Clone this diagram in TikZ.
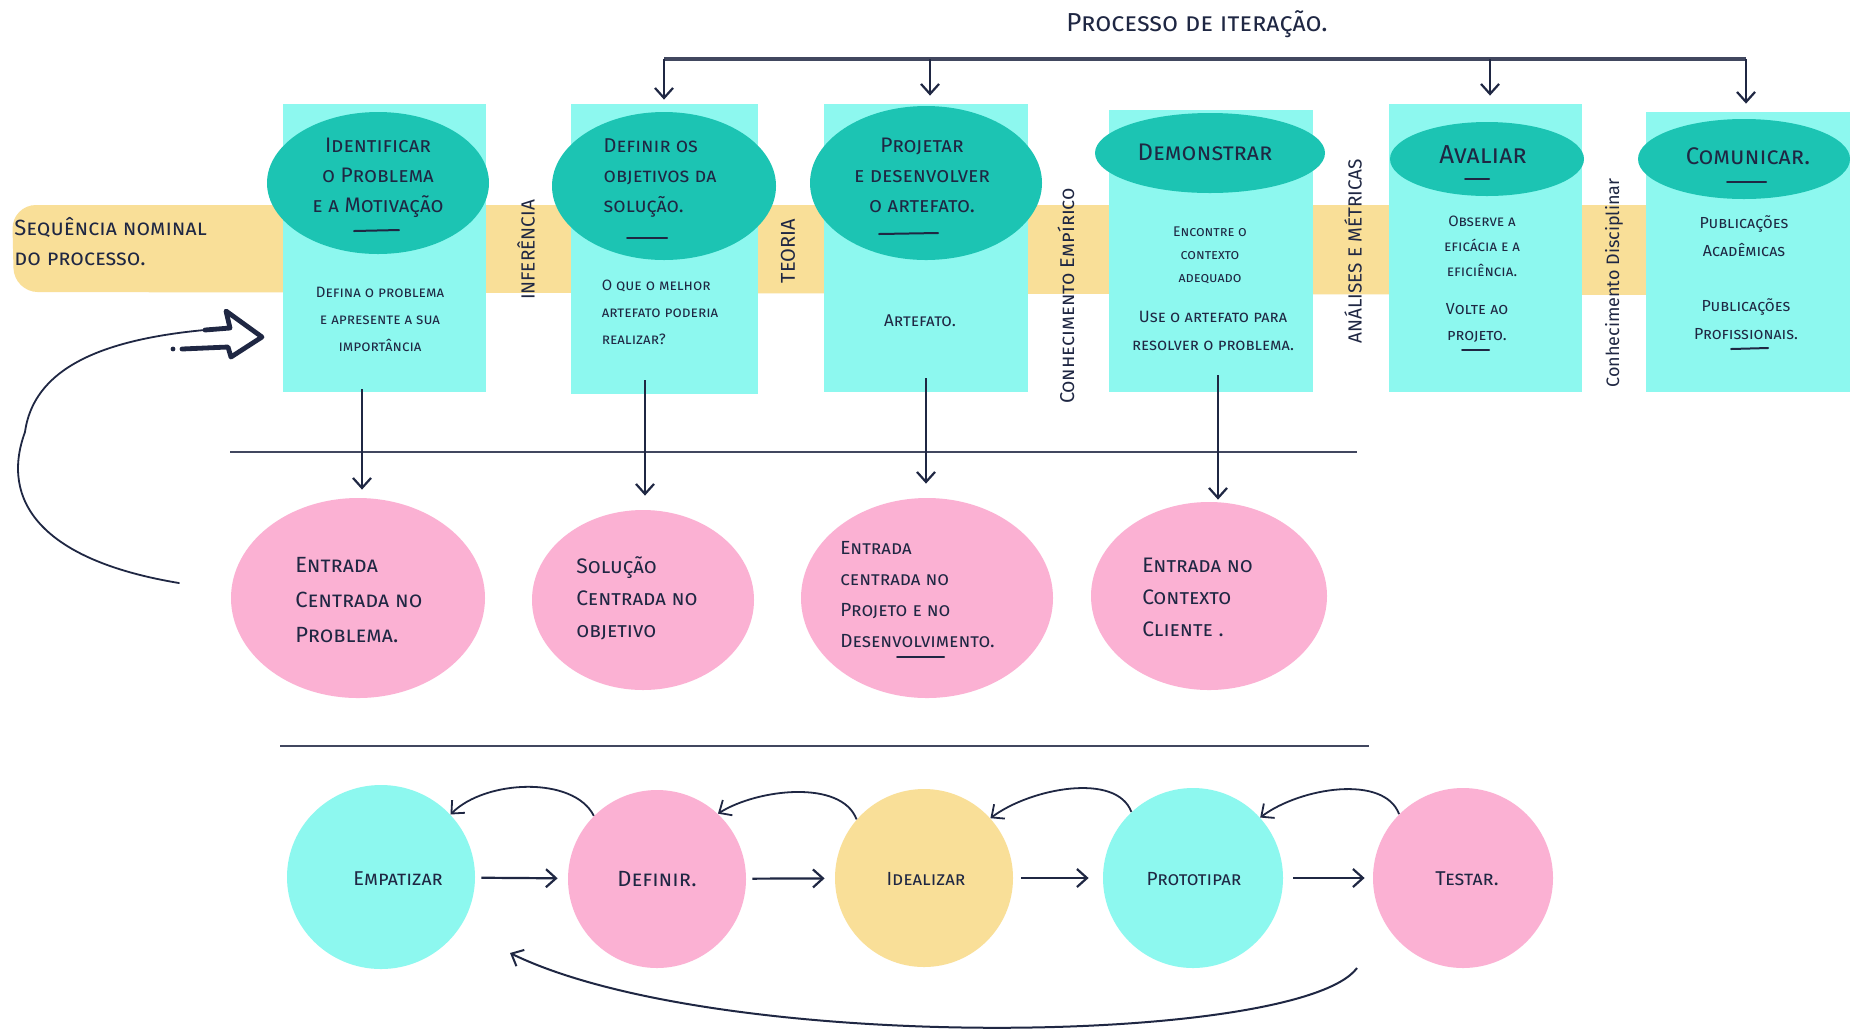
\documentclass[tikz,border=0pt]{standalone}
\usepackage{fontspec}
\setmainfont{Fira Sans}
\usetikzlibrary{arrows.meta,shapes.geometric,fit}
\definecolor{ink}{HTML}{1F2743}
\definecolor{boxcyan}{HTML}{8DF8EF}
\definecolor{tealell}{HTML}{1CC4B3}
\definecolor{bandyel}{HTML}{F9DF98}
\definecolor{pinkell}{HTML}{FBB1D3}
\begin{document}
\begin{tikzpicture}[x=0.5pt,y=-0.5pt,
  hand/.style={text=ink, align=center, inner sep=0pt},
  fs/.style n args={2}{font=\fontsize{#1}{#2}\selectfont\scshape},
  boxr/.style={fill=boxcyan, inner sep=0pt, draw=none},
  tell/.style={ellipse, fill=tealell, inner sep=0pt},
  pell/.style={ellipse, fill=pinkell, inner sep=0pt},
  arr/.style={draw=ink, line width=1.1pt, -{Straight Barb[length=5pt,width=9pt]}},
  stroke/.style={draw=ink, line width=1pt, line cap=round},
  rule/.style={draw=ink!85, line width=1.3pt}]
\useasboundingbox (0,0) rectangle (1850,1030);
\fill[white] (0,0) rectangle (1850,1030);

% yellow band
\fill[bandyel, rounded corners=12pt] (12,205) -- (1720,205) -- (1720,295) -- (14,292) -- cycle;

% title and iteration line
\node[hand, fs={13}{16}] (title) at (1197,24) {Processo de iteração.};
\coordinate (it1) at (664,59);
\coordinate (it2) at (930,59);
\coordinate (it3) at (1490,59);
\coordinate (it4) at (1746,59);
\draw[rule, line width=1.6pt] (it1) -- (it4);

% cyan boxes
\node[boxr, fit={(283,104)(486,392)}] (r1) {};
\node[boxr, fit={(571,104)(758,394)}] (r2) {};
\node[boxr, fit={(824,104)(1028,392)}] (r3) {};
\node[boxr, fit={(1109,110)(1313,392)}] (r4) {};
\node[boxr, fit={(1389,104)(1582,392)}] (r5) {};
\node[boxr, fit={(1646,112)(1850,392)}] (r6) {};

\draw[arr] (it1) -- ([yshift=2pt]it1 |- r2.north);
\draw[arr] (it2) -- ([yshift=4pt]it2 |- r3.north);
\draw[arr] (it3) -- ([yshift=4pt]it3 |- r5.north);
\draw[arr] (it4) -- ([yshift=4pt]r6.north -| it4);

% teal ellipses
\node[tell, minimum width=111pt, minimum height=71pt] (e1) at (378,183) {};
\node[tell, minimum width=112pt, minimum height=74pt] (e2) at (664,186) {};
\node[tell, minimum width=116pt, minimum height=77pt] (e3) at (926,183) {};
\node[tell, minimum width=115pt, minimum height=40pt] (e4) at (1210,153) {};
\node[tell, minimum width=97pt, minimum height=37pt] (e5) at (1487,159) {};
\node[tell, minimum width=106pt, minimum height=40pt] (e6) at (1744,159) {};

\node[hand, fs={10.5}{15}] (e1t) at (378,178) {Identificar\\o Problema\\e a Motivação};
\node[hand, fs={10}{15}, align=left] (e2t) at (660,178) {Definir os\\objetivos da\\solução.};
\node[hand, fs={10.5}{15}] (e3t) at (922,175) {Projetar\\e desenvolver\\o artefato.};
\node[hand, fs={12}{15}] (e4t) at (1205,152) {Demonstrar};
\node[hand, fs={13}{15}] (e5t) at (1483,155) {Avaliar};
\node[hand, fs={12}{15}] (e6t) at (1748,156) {Comunicar.};

% short underlines
\draw[stroke] (354,231) -- (399,230);
\draw[stroke] (627,238) -- (667,238);
\draw[stroke] (879,234) -- (938,233);
\draw[stroke] (1465,179) -- (1489,179);
\draw[stroke] (1727,182) -- (1766,182);

% box body texts
\node[hand, fs={7.5}{13.5}] (r1t) at (380,319) {Defina o problema\\e apresente a sua\\importância};
\node[hand, fs={7.5}{13.5}, align=left] (r2t) at (660,312) {O que o melhor\\artefato poderia\\realizar?};
\node[hand, fs={8.5}{13}] (r3t) at (920,321) {Artefato.};
\node[hand, fs={7}{11.5}] (r4t) at (1210,255) {Encontre o\\contexto\\adequado};
\node[hand, fs={8.2}{14}] (r4u) at (1213,331) {Use o artefato para\\resolver o problema.};
\node[hand, fs={7.5}{12.5}] (r5t) at (1482,246) {Observe a\\eficácia e a\\eficiência.};
\node[hand, fs={8}{13}] (r5u) at (1477,323) {Volte ao\\projeto.};
\node[hand, fs={8}{14}] (r6t) at (1744,236) {Publicações\\Acadêmicas};
\node[hand, fs={8}{14}] (r6u) at (1746,319) {Publicações\\Profissionais.};
\draw[stroke] (1462,350) -- (1489,350);
\draw[stroke] (1731,349) -- (1768,348);

% vertical labels
\node[hand, rotate=90, font=\fontsize{9.5}{11}\selectfont] (inf) at (526,250) {INFERÊNCIA};
\node[hand, rotate=90, font=\fontsize{10}{11}\selectfont] (teo) at (788,251) {TEORIA};
\node[hand, rotate=90, fs={10}{11}] (cemp) at (1066,296) {Conhecimento Empírico};
\node[hand, rotate=90, font=\fontsize{9.5}{11}\selectfont] (anal) at (1353,251) {ANÁLISES E MÉTRICAS};
\node[hand, rotate=90, font=\fontsize{9}{11}\selectfont] (cdisc) at (1614,283) {Conhecimento Disciplinar};

% left label
\node[hand, fs={11}{15}, align=left, anchor=west] (seq) at (14,242) {Sequência nominal\\do processo.};

% separator lines
\coordinate (l1a) at (230,452);
\coordinate (l1b) at (1357,452);
\coordinate (l2a) at (280,746);
\coordinate (l2b) at (1369,746);
\draw[rule] (l1a) -- (l1b);
\draw[rule] (l2a) -- (l2b);

% pink ellipses
\node[pell, minimum width=127pt, minimum height=100pt] (p1) at (358,598) {};
\node[pell, minimum width=111pt, minimum height=90pt] (p2) at (643,600) {};
\node[pell, minimum width=126pt, minimum height=100pt] (p3) at (927,598) {};
\node[pell, minimum width=118pt, minimum height=94pt] (p4) at (1209,596) {};

\node[hand, fs={11}{17.5}, align=left, anchor=west] (p1t) at (295,600) {Entrada\\Centrada no\\Problema.};
\node[hand, fs={10.5}{16}, align=left, anchor=west] (p2t) at (576,598) {Solução\\Centrada no\\objetivo};
\node[hand, fs={9.5}{15.5}, align=left, anchor=west] (p3t) at (840,595) {Entrada\\centrada no\\Projeto e no\\Desenvolvimento.};
\node[hand, fs={10.5}{16}, align=left, anchor=west] (p4t) at (1142,597) {Entrada no\\Contexto\\Cliente .};
\draw[stroke] (897,657) -- (944,657);

% arrows box -> pink
\draw[arr, shorten >=4pt] (r1.south -| p1.north) ++(4,-3) -- ([xshift=2pt]p1.north);
\draw[arr, shorten >=7pt] (r2.south -| p2.north) ++(2,-14) -- ([xshift=1pt]p2.north);
\draw[arr, shorten >=7pt] (r3.south -| p3.north) ++(-1,-14) -- ([xshift=-0.5pt]p3.north);
\draw[arr, shorten >=1pt] (r4.south -| p4.north) ++(9,-17) -- ([xshift=4.5pt]p4.north);

% loop back arrow on the left, ending in an outlined block arrow
\coordinate (lpS) at (179,583);
\coordinate (lpM) at (25,432);
\coordinate (lpE) at (230,328);
\draw[stroke, line width=0.9pt] (lpS) .. controls (40,560) and (0,500) .. (lpM)
  .. controls (35,360) and (120,335) .. (lpE);
\draw[draw=ink, line width=2.4pt, line join=round, line cap=round]
  (205,330) -- (lpE) -- (226,311) -- (262,337) -- (231,357) -- (228,347) -- (182,349);
\fill[ink] (173,349) circle (1.2pt);

% bottom circles
\node[ellipse, fill=boxcyan, minimum width=94pt, minimum height=92pt, inner sep=0] (c1) at (381,877) {};
\node[ellipse, fill=pinkell, minimum width=89pt, minimum height=89pt, inner sep=0] (c2) at (657,879) {};
\node[ellipse, fill=bandyel, minimum width=89pt, minimum height=89pt, inner sep=0] (c3) at (924,878) {};
\node[ellipse, fill=boxcyan, minimum width=90pt, minimum height=90pt, inner sep=0] (c4) at (1193,878) {};
\node[ellipse, fill=pinkell, minimum width=90pt, minimum height=90pt, inner sep=0] (c5) at (1463,878) {};

\node[hand, fs={10}{12}] (c1t) at (398,879) {Empatizar};
\node[hand, fs={11}{12}] (c2t) at (657,879) {Definir.};
\node[hand, fs={9.5}{12}] (c3t) at (926,879) {Idealizar};
\node[hand, fs={9.5}{12}] (c4t) at (1194,879) {Prototipar};
\node[hand, fs={10}{12}] (c5t) at (1467,879) {Testar.};

\draw[arr, shorten <=3pt, shorten >=5pt] (c1) -- (c2);
\draw[arr, shorten <=3pt, shorten >=5pt] (c2) -- (c3);
\draw[arr, shorten <=4pt, shorten >=7pt] (c3) -- (c4);
\draw[arr, shorten <=5pt, shorten >=4pt] (c4) -- (c5);

\draw[arr, line width=0.9pt] (c2.135) .. controls +(-20,-40) and +(35,-35) .. (c1.42);
\draw[arr, line width=0.9pt] (c3.139) .. controls +(-15,-40) and +(40,-25) .. (c2.47);
\draw[arr, line width=0.9pt] (c4.133) .. controls +(-15,-40) and +(40,-30) .. (c3.42);
\draw[arr, line width=0.9pt] (c5.135) .. controls +(-15,-40) and +(40,-30) .. (c4.42);

\coordinate (arcS) at (1357,968);
\coordinate (arcE) at (510,953);
\draw[arr, line width=1pt] (arcS) .. controls (1300,1045) and (720,1055) .. (arcE);
\end{tikzpicture}
\end{document}
